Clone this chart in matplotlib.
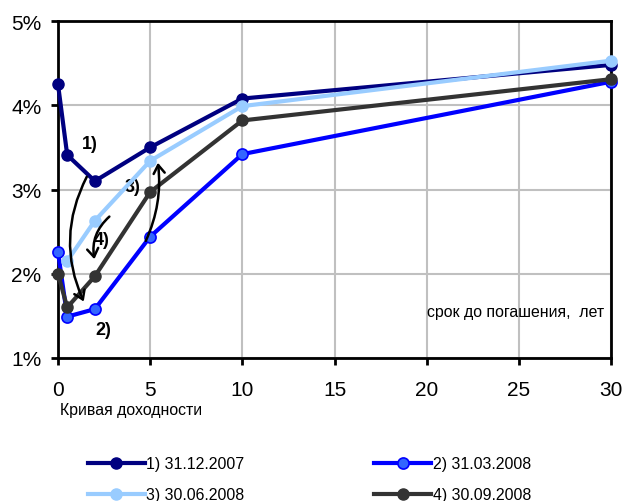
import matplotlib
matplotlib.use("Agg")
import matplotlib.pyplot as plt
from matplotlib.patches import FancyArrowPatch

plt.rcParams['font.family'] = ['Liberation Sans', 'DejaVu Sans']

# срок до погашения, лет
terms = [0, 0.5, 2, 5, 10, 30]
terms_3 = [0.5, 2, 5, 10, 30]

y_1 = [4.25, 3.41, 3.10, 3.50, 4.08, 4.48]
y_2 = [2.26, 1.49, 1.58, 2.44, 3.42, 4.28]
y_3 = [2.15, 2.63, 3.34, 3.99, 4.53]
y_4 = [2.00, 1.60, 1.97, 2.97, 3.82, 4.31]

labels = ["1) 31.12.2007", "2) 31.03.2008", "3) 30.06.2008", "4) 30.09.2008"]

fig = plt.figure(figsize=(6.27, 5.02), dpi=100)
ax = fig.add_axes([0.0925, 0.285, 0.882, 0.671])

l1, = ax.plot(terms, y_1, color="#000080", lw=3, marker="o", ms=8, label=labels[0],
              zorder=3, clip_on=False)
l2, = ax.plot(terms, y_2, color="#0000ff", lw=3, marker="o", ms=8,
              mfc="#3366ff", mec="#0000ff", mew=1.2, label=labels[1], zorder=3, clip_on=False)
l3, = ax.plot(terms_3, y_3, color="#99ccff", lw=3, marker="o", ms=8, label=labels[2],
              zorder=4, clip_on=False)
l4, = ax.plot(terms, y_4, color="#333333", lw=3, marker="o", ms=8, label=labels[3],
              zorder=5, clip_on=False)

ax.set_xlim(0, 30)
ax.set_ylim(1, 5)
ax.set_xticks(range(0, 31, 5))
ax.set_yticks([1, 2, 3, 4, 5])
ax.set_yticklabels(["1%", "2%", "3%", "4%", "5%"])
ax.grid(True, color="#c0c0c0", lw=1.5)
ax.set_axisbelow(True)
for s in ax.spines.values():
    s.set_linewidth(2)
ax.tick_params(labelsize=15, width=2, length=5)
ax.tick_params(axis="x", pad=11)
ax.tick_params(axis="y", pad=7)

# pointers
ax.text(1.74, 3.55, "1)", fontsize=13, fontweight="bold", ha="center", va="center")
ax.text(2.44, 1.34, "2)", fontsize=13, fontweight="bold", ha="center", va="center")
ax.text(4.07, 3.03, "3)", fontsize=13, fontweight="bold", ha="center", va="center")
ax.text(2.39, 2.41, "4)", fontsize=13, fontweight="bold", ha="center", va="center")

arrows = [((1.63, 3.18), (1.46, 1.64), 0.25),
          ((2.9, 2.70), (2.0, 2.14), 0.3),
          ((4.7, 2.36), (5.4, 3.35), 0.15)]
for start, end, rad in arrows:
    ax.add_patch(FancyArrowPatch(start, end, connectionstyle=f"arc3,rad={rad}",
                                 arrowstyle="->,head_length=6,head_width=4",
                                 color="black", lw=1.8, zorder=6))

ax.text(29.6, 1.55, "срок до погашения,  лет", fontsize=11.4, ha="right", va="center")
fig.text(0.096, 0.183, "Кривая доходности", fontsize=11.4, ha="left", va="center")

fig.legend([l1, l3, l2, l4], [labels[0], labels[2], labels[1], labels[3]],
           ncol=2, loc="center left", bbox_to_anchor=(0.117, 0.043),
           frameon=False, fontsize=11.4, handlelength=3.6, handletextpad=0.1,
           columnspacing=8.2, labelspacing=1.0)

fig.savefig("out.png", dpi=100)
